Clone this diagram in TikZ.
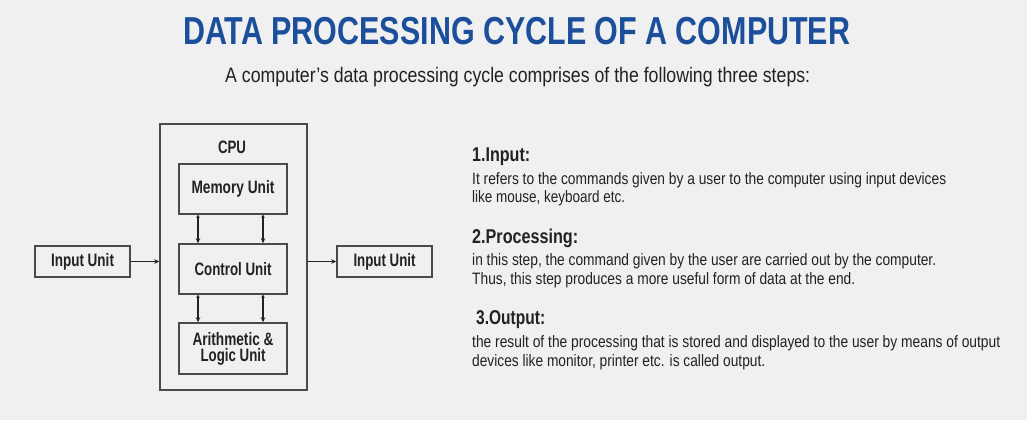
\documentclass[tikz,border=0pt]{standalone}
\usepackage{fontspec}
\setmainfont{Liberation Sans}
\usetikzlibrary{arrows.meta}
\definecolor{bgc}{HTML}{F0F0F0}
\definecolor{titleblue}{HTML}{1B4F9C}
\definecolor{txt}{HTML}{222222}
\definecolor{boxline}{HTML}{4A4A4A}
\newcommand\fitw[2]{\resizebox{#1}{\height}{#2}}
\tikzset{
  unitbox/.style={draw=boxline, line width=1.5pt, fill=bgc, inner sep=0pt, text=txt,
     font=\bfseries\fontsize{18}{17}\selectfont, align=center},
  txtline/.style={anchor=base west, inner sep=0pt, text=txt, font=\fontsize{16.5}{18}\selectfont},
  headline/.style={anchor=base west, inner sep=0pt, text=txt, font=\bfseries\fontsize{20}{20}\selectfont},
  conn/.style={draw=txt, line width=1.1pt, -{Stealth[length=5pt,width=4.5pt]}},
  biconn/.style={draw=txt, line width=1.1pt, {Stealth[length=3pt,width=3.5pt]}-{Stealth[length=5pt,width=4.5pt]}}
}
\begin{document}
\begin{tikzpicture}[x=1pt,y=-1pt]
\fill[bgc] (0,0) rectangle (1027,420);
\useasboundingbox (0,0) rectangle (1027,420);

% title and subtitle
\node[anchor=base west, inner sep=0pt, text=titleblue, font=\bfseries\fontsize{39}{39}\selectfont] (title) at (183,45) {\fitw{667pt}{DATA PROCESSING CYCLE OF A COMPUTER}};
\node[anchor=base west, inner sep=0pt, text=txt, font=\fontsize{21}{21}\selectfont] (subtitle) at (225,82) {\fitw{585pt}{A computer’s data processing cycle comprises of the following three steps:}};

% CPU diagram
\node[unitbox, fill=none, minimum width=147pt, minimum height=266pt] (cpu) at (233.5,257) {};
\node[anchor=base, inner sep=0pt, text=txt, font=\bfseries\fontsize{18}{18}\selectfont] (cpulabel) at (232,153) {\fitw{28pt}{CPU}};
\node[unitbox, minimum width=108pt, minimum height=50pt] (mem) at (233,189) {\fitw{83pt}{Memory Unit}};
\node[unitbox, minimum width=108pt, minimum height=50pt] (ctl) at (233,269) {\fitw{77pt}{Control Unit}};
\node[unitbox, minimum width=108pt, minimum height=51pt] (alu) at (233,348.5) {\fitw{81pt}{Arithmetic \&}\\[-1pt]\fitw{65pt}{Logic Unit}};
\node[unitbox, minimum width=95pt, minimum height=31pt] (inl) at (82.5,261.5) {\fitw{63pt}{Input Unit}};
\node[unitbox, minimum width=95pt, minimum height=31pt] (inr) at (384.5,261.5) {\fitw{62pt}{Input Unit}};

\coordinate (xa) at (198,0);
\coordinate (xb) at (263,0);
\draw[biconn] (mem.south -| xa) -- (ctl.north -| xa);
\draw[biconn] (mem.south -| xb) -- (ctl.north -| xb);
\draw[biconn] (ctl.south -| xa) -- (alu.north -| xa);
\draw[biconn] (ctl.south -| xb) -- (alu.north -| xb);
\draw[conn] (inl.east) -- (cpu.west |- inl.east);
\draw[conn] (cpu.east |- inr.west) -- (inr.west);

% right-hand text
\node[headline] (h1) at (472,161) {\fitw{58pt}{1.Input:}};
\node[txtline] (l1) at (472,184) {\fitw{474pt}{It refers to the commands given by a user to the computer using input devices}};
\node[txtline] (l2) at (472,202.5) {\fitw{153pt}{like mouse, keyboard etc.}};
\node[headline] (h2) at (472,243) {\fitw{106pt}{2.Processing:}};
\node[txtline] (l3) at (472,265) {\fitw{464pt}{in this step, the command given by the user are carried out by the computer.}};
\node[txtline] (l4) at (472,284) {\fitw{383pt}{Thus, this step produces a more useful form of data at the end.}};
\node[headline] (h3) at (476,324) {\fitw{69pt}{3.Output:}};
\node[txtline] (l5) at (472,347) {\fitw{528pt}{the result of the processing that is stored and displayed to the user by means of output}};
\node[txtline] (l6) at (472,366) {\fitw{293pt}{devices like monitor, printer etc. is called output.}};
\end{tikzpicture}
\end{document}
